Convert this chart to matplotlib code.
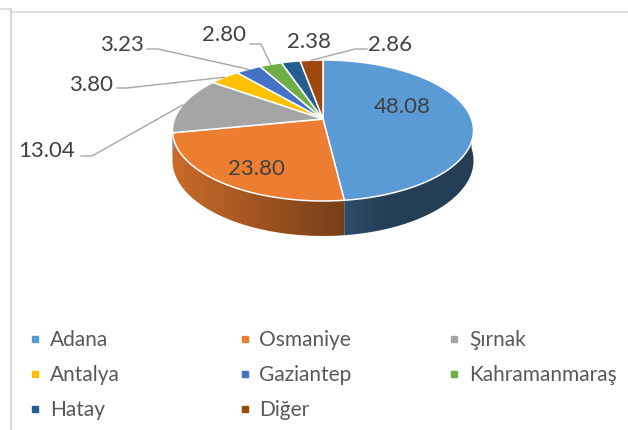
import numpy as np
import matplotlib
matplotlib.use("Agg")
import matplotlib.pyplot as plt
from matplotlib.patches import Polygon

plt.rcParams['font.family'] = ['Lato', 'DejaVu Sans']

# veriler
iller = ['Adana', 'Osmaniye', 'Şırnak', 'Antalya', 'Gaziantep',
         'Kahramanmaraş', 'Hatay', 'Diğer']
oranlar = [48.08, 23.80, 13.04, 3.80, 3.23, 2.80, 2.38, 2.86]
renkler = ['#5B9BD5', '#ED7D31', '#A5A5A5', '#FFC000', '#4472C4',
           '#70AD47', '#255E91', '#9E480E']

# pasta geometrisi (piksel)
cx, cy = 323, 120
A, B = 148.5, 68.6
k = 0.163
D = 29.3

# etiket konumlari (piksel, metin merkezi) ve kirik cizgi noktalari
etiket_xy = [(402.5, 105), (256.7, 166.7), (47, 149), (91.5, 82.7),
             (122, 43), (224, 33), (309.5, 40), (390.5, 43)]
kirik = [None, None, [(92, 157), (81, 157)], [(127, 89), (117, 89)],
         [(158, 50), (147, 50)], [(261, 45), (250, 45)], None,
         [(355, 50), (367, 50)]]


def proj(th, r=1.0, drop=0.0):
    u = r * np.sin(th)
    v = -r * np.cos(th)
    w = 1 - k * v
    return cx + A * u / w, cy + B * v / w + drop * D / w


def golge(x):
    # yan yuzey icin karartma katsayisi
    return np.interp(x, [173, 345, 390, 480], [0.85, 0.5, 0.4, 0.4])


fig = plt.figure(figsize=(6.28, 4.31), dpi=100)
ax = fig.add_axes([0, 0, 1, 1])
ax.set_xlim(0, 628)
ax.set_ylim(431, 0)
ax.axis('off')

# cerceve
ax.plot([11, 11], [10, 431], color='#d9d9d9', lw=1.6)
ax.plot([12, 628], [13, 13], color='#d9d9d9', lw=1.2)
ax.plot([0, 11], [10, 10], color='#d9d9d9', lw=1.2)

toplam = sum(oranlar)
sinirlar = np.concatenate([[0], np.cumsum(oranlar)]) / toplam * 2 * np.pi

# yan yuzeyler (on taraf, yatay renk gecisli)
xs_g = np.arange(0, 628) + 0.5
for i, c in enumerate(renkler):
    t0 = max(sinirlar[i], np.pi / 2)
    t1 = min(sinirlar[i + 1], 3 * np.pi / 2)
    if t1 <= t0:
        continue
    ts = np.linspace(t0, t1, 200)
    ust = [proj(t) for t in ts]
    alt = [proj(t, drop=1) for t in ts[::-1]]
    poly = Polygon(ust + alt, closed=True, facecolor='none',
                   edgecolor='none', zorder=2)
    ax.add_patch(poly)
    rgb = np.array(matplotlib.colors.to_rgb(c))
    img = golge(xs_g)[None, :, None] * rgb[None, None, :]
    im = ax.imshow(np.repeat(img, 2, axis=0), extent=(0, 628, 431, 0),
                   aspect='auto', interpolation='bilinear', zorder=2)
    im.set_clip_path(poly)
ax.set_xlim(0, 628)
ax.set_ylim(431, 0)

# ust yuzeyler
for i, c in enumerate(renkler):
    ts = np.linspace(sinirlar[i], sinirlar[i + 1], 120)
    pts = [(cx, cy)] + [proj(t) for t in ts]
    ax.add_patch(Polygon(pts, closed=True, facecolor=c, edgecolor='white',
                         lw=1.1, zorder=3))

# etiketler
for i, v in enumerate(oranlar):
    x, y = etiket_xy[i]
    ax.text(x, y + 8, f'{v:.2f}', fontsize=16, color='#404040',
            ha='center', va='baseline', zorder=5)
    if kirik[i] is not None:
        orta = (sinirlar[i] + sinirlar[i + 1]) / 2
        uc = proj(orta)
        xs = [uc[0]] + [p[0] for p in kirik[i]]
        ys = [uc[1]] + [p[1] for p in kirik[i]]
        ax.plot(xs, ys, color='#a6a6a6', lw=1.0, zorder=4)

# lejant
for i, (ad, c) in enumerate(zip(iller, renkler)):
    sat, sut = i // 3, i % 3
    x = 35 + sut * 209.5
    y = 340 + sat * 35
    ax.plot(x, y, marker='s', ms=5, color=c, mec=c, ls='none')
    ax.text(x + 15, y + 6.5, ad, fontsize=15, color='#595959',
            ha='left', va='baseline')

fig.savefig('out.png', dpi=100)
